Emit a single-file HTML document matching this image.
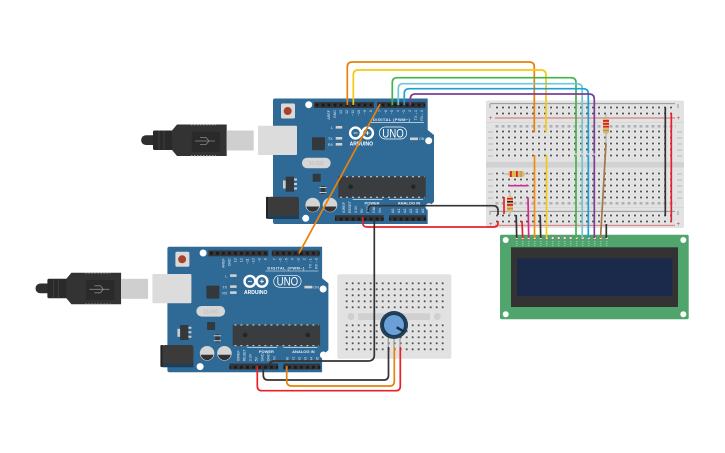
<!DOCTYPE html>
<html><head><meta charset="utf-8"><style>
html,body{margin:0;padding:0;background:#fff;width:725px;height:453px;overflow:hidden}
svg{display:block}
text{font-family:"Liberation Sans",sans-serif}
.w{fill:none;stroke-width:1.7;stroke-linejoin:round}
.l{font-size:3.6px;fill:#dfe8f0}
</style></head><body>
<svg width="725" height="453" viewBox="0 0 725 453" xmlns="http://www.w3.org/2000/svg">
<defs>
<pattern id="h" x="2" y="-3.500" width="6" height="6" patternUnits="userSpaceOnUse"><rect width="6" height="6" fill="#e2e2e2"/><rect x="1.300" y="1.300" width="3.400" height="3.400" rx="1" fill="#ebebeb"/><rect x="2.100" y="2.100" width="1.800" height="1.800" fill="#444"/></pattern>
<pattern id="s" x="1.700" y="4.300" width="6" height="6" patternUnits="userSpaceOnUse"><rect width="6" height="6" fill="#e2e2e2"/><rect x="1.300" y="1.300" width="3.400" height="3.400" rx="1" fill="#ebebeb"/><rect x="2.100" y="2.100" width="1.800" height="1.800" fill="#444"/></pattern>
<pattern id="m" x="2" y="125" width="6" height="100" patternUnits="userSpaceOnUse"><rect x="1.500" y="0" width="3" height="2.600" fill="#b0b0b0"/><rect x="1.500" y="77" width="3" height="2.600" fill="#b0b0b0"/></pattern>
<pattern id="p" x="314" y="0" width="6" height="6" patternUnits="userSpaceOnUse"><rect width="6" height="6" fill="#33363a"/><rect x="1.600" y="1.600" width="2.800" height="2.800" fill="#17191b"/></pattern>
</defs>

<!-- Main breadboard -->
<rect x="486" y="100.500" width="198" height="127.500" rx="2" fill="#e2e2e2"/>
<rect x="486" y="122" width="198" height="1" fill="#d8d8d8"/>
<rect x="486" y="162" width="198" height="5.500" fill="#d2d2d2"/>
<rect x="486" y="207" width="198" height="1" fill="#d8d8d8"/>
<rect x="494" y="104.500" width="182" height="12" fill="url(#h)"/>
<rect x="494" y="212.500" width="182" height="12" fill="url(#h)"/>
<rect x="494" y="128.500" width="182" height="30" fill="url(#h)"/>
<rect x="494" y="170.500" width="182" height="30" fill="url(#h)"/>
<rect x="494" y="125" width="182" height="80" fill="url(#m)"/>
<line x1="490" y1="103.700" x2="675" y2="103.700" stroke="#8a8a8a" stroke-width=".9"/>
<line x1="495" y1="118" x2="675" y2="118" stroke="#d46a6a" stroke-width=".9"/>
<line x1="490" y1="211.300" x2="675" y2="211.300" stroke="#8a8a8a" stroke-width=".9"/>
<line x1="495" y1="225.300" x2="675" y2="225.300" stroke="#d46a6a" stroke-width=".9"/>
<path d="M677,132h5M677,138h5M677,144h5M677,150h5M677,156h5M677,174h5M677,180h5M677,186h5M677,192h5M677,198h5M488,132h5M488,138h5M488,144h5M488,150h5M488,156h5M488,174h5M488,180h5M488,186h5M488,192h5M488,198h5" stroke="#bbb" stroke-width="1"/>
<path d="M678,104v4M490,104v4M678,211v4M490,211v4" stroke="#999" stroke-width="1"/>
<text x="489" y="120" font-size="6" fill="#c33">+</text><text x="676.500" y="120" font-size="6" fill="#c33">+</text>
<text x="489" y="226" font-size="6" fill="#c33">+</text><text x="676.500" y="226" font-size="6" fill="#c33">+</text>

<!-- Small breadboard -->
<rect x="337.300" y="274.300" width="114" height="84.400" rx="2" fill="#e2e2e2"/>
<rect x="343.700" y="280.300" width="102" height="30" fill="url(#s)"/>
<rect x="343.700" y="322.700" width="102" height="30" fill="url(#s)"/>
<rect x="358" y="313.300" width="72" height="6.700" rx="1" fill="#d0d0d0"/>
<circle cx="351" cy="316.500" r="3.500" fill="#cfcfcf"/><circle cx="437.300" cy="316.500" r="3.500" fill="#cfcfcf"/>

<!-- LCD -->
<rect x="500" y="234.700" width="188.700" height="84.600" rx="1.500" fill="#4fa56b"/>
<circle cx="505.700" cy="240" r="3" fill="#fff"/><circle cx="683.300" cy="240" r="3" fill="#fff"/>
<circle cx="505.700" cy="314.300" r="3" fill="#fff"/><circle cx="683.300" cy="314.300" r="3" fill="#fff"/>
<rect x="511" y="247.300" width="167" height="59.700" fill="#333"/>
<rect x="517" y="258.300" width="155.300" height="37.700" fill="#1b2a4a"/>
<g fill="#f0e9c8" stroke="#666" stroke-width=".5">
<circle cx="516.700" cy="238" r="1.500"/><circle cx="522.700" cy="238" r="1.500"/><circle cx="528.700" cy="238" r="1.500"/><circle cx="534.700" cy="238" r="1.500"/><circle cx="540.700" cy="238" r="1.500"/><circle cx="546.700" cy="238" r="1.500"/><circle cx="552.700" cy="238" r="1.500"/><circle cx="558.700" cy="238" r="1.500"/><circle cx="564.700" cy="238" r="1.500"/><circle cx="570.700" cy="238" r="1.500"/><circle cx="576.700" cy="238" r="1.500"/><circle cx="582.700" cy="238" r="1.500"/><circle cx="588.700" cy="238" r="1.500"/><circle cx="594.700" cy="238" r="1.500"/><circle cx="600.700" cy="238" r="1.500"/><circle cx="606.700" cy="238" r="1.500"/>
</g>
<path d="M516.700,241v5M522.700,241v5M528.700,241v5M534.700,241v5M540.700,241v5M546.700,241v5M552.700,241v5M558.700,241v5M564.700,241v5M570.700,241v5M576.700,241v5M582.700,241v5M588.700,241v5M594.700,241v5M600.700,241v5M606.700,241v5" stroke="#8cc5a0" stroke-width="1.600" stroke-dasharray="1 1"/>

<!-- USB top -->
<g>
<path d="M146,135.200H156V145H146a4.900,4.900 0 0 1 0,-9.800Z" fill="#2f2f2f"/>
<rect x="153" y="130.500" width="20" height="19.500" rx="1.500" fill="#2a2a2a"/>
<path d="M159,130.500v19.500M164,130.500v19.500" stroke="#444" stroke-width=".8"/>
<path d="M172,130.500L177,124.500H226.700V156H177L172,150Z" fill="#333"/>
<path d="M191,124.700H216M191,155.800H216" stroke="#aaa" stroke-width="1" stroke-dasharray="1.500 1.500"/>
<rect x="191.700" y="131.700" width="28.300" height="20" fill="#2a2a2a"/>
<path d="M195,141H215M200,137.500H206L209,141M200,144.500H206L209,141" stroke="#888" stroke-width=".8" fill="none"/>
<rect x="226.700" y="130.500" width="27" height="20" fill="#cfcfcf"/>
</g>
<!-- USB bottom -->
<g transform="translate(-105.600,148.300)">
<path d="M146,135.200H156V145H146a4.900,4.900 0 0 1 0,-9.800Z" fill="#2f2f2f"/>
<rect x="153" y="130.500" width="20" height="19.500" rx="1.500" fill="#2a2a2a"/>
<path d="M159,130.500v19.500M164,130.500v19.500" stroke="#444" stroke-width=".8"/>
<path d="M172,130.500L177,124.500H226.700V156H177L172,150Z" fill="#333"/>
<path d="M191,124.700H216M191,155.800H216" stroke="#aaa" stroke-width="1" stroke-dasharray="1.500 1.500"/>
<rect x="191.700" y="131.700" width="28.300" height="20" fill="#2a2a2a"/>
<path d="M195,141H215M200,137.500H206L209,141M200,144.500H206L209,141" stroke="#888" stroke-width=".8" fill="none"/>
<rect x="226.700" y="130.500" width="27" height="20" fill="#cfcfcf"/>
</g>

<!-- Arduino top -->
<g>
<path d="M275,98.500H427.700V130L434,135V201.700L427.700,208V224H275a2,2 0 0 1 -2,-2V100.500a2,2 0 0 1 2,-2Z" fill="#2f6a97"/>
<rect x="258" y="125.700" width="39" height="29.300" rx="1" fill="#dcdcdc"/>
<rect x="281" y="103.500" width="14" height="15" rx="1.500" fill="#d9d9d9"/><circle cx="287.700" cy="111" r="4" fill="#a8432b"/>
<circle cx="308.700" cy="104.700" r="3.500" fill="#fff"/><circle cx="428.700" cy="140.700" r="3.500" fill="#fff"/><circle cx="429" cy="206.700" r="3.500" fill="#fff"/><circle cx="305.700" cy="218.300" r="3.500" fill="#fff"/>
<rect x="314" y="102" width="60" height="6" fill="url(#p)"/>
<rect x="377.300" y="102" width="48" height="6" fill="url(#p)"/>
<rect x="335" y="215.200" width="48.700" height="6" fill="url(#p)"/><rect x="389" y="215.200" width="37" height="6" fill="url(#p)"/>
<rect x="312" y="137.300" width="13" height="13" rx="1" fill="#33383c"/>
<rect x="302" y="157.700" width="28.700" height="10.600" rx="5.300" fill="#d6d6d6"/><text x="316.300" y="165" font-size="5" fill="#bcbcbc" text-anchor="middle">16.000</text>
<rect x="312.700" y="173.700" width="8" height="8" rx=".5" fill="#33383c"/>
<rect x="283" y="180.500" width="4" height="8" fill="#ccc"/><rect x="285.700" y="176.700" width="8.300" height="15" fill="#33383c"/><path d="M294,179.500h3M294,184h3M294,188.500h3" stroke="#ccc" stroke-width="2"/>
<rect x="320.800" y="186" width="4.500" height="8" fill="#33383c"/><path d="M319.500,187.500h7M319.500,192.500h7" stroke="#ccc" stroke-width="1"/>
<rect x="338.300" y="176.300" width="87.400" height="21.400" fill="#3a3d3f"/>
<path d="M340,176.700H424.500M340,197.300H424.500" stroke="#d8d8d8" stroke-width="1" stroke-dasharray="2 4"/>
<circle cx="350.700" cy="186.700" r="2.300" fill="#232527"/><circle cx="413.300" cy="186.700" r="2.300" fill="#232527"/>
<rect x="266" y="196.700" width="3" height="22" rx="1" fill="#232323"/><rect x="268" y="196.700" width="31" height="21.500" rx="2.500" fill="#3b3b3b"/><rect x="268" y="215.500" width="31" height="3.500" fill="#1f3f58"/>
<circle cx="312.700" cy="205" r="7.300" fill="#d4d4d4"/><path d="M306.300,206.500a6.500,6.500 0 0 0 12.800,0Z" fill="#333"/>
<circle cx="330" cy="205" r="7.300" fill="#d4d4d4"/><path d="M323.600,206.500a6.500,6.500 0 0 0 12.800,0Z" fill="#333"/>
<circle cx="355.500" cy="133" r="5.400" fill="none" stroke="#fff" stroke-width="2.400"/><circle cx="367.500" cy="133" r="5.400" fill="none" stroke="#fff" stroke-width="2.400"/>
<path d="M353.500,133h4M365.400,133h4.200M367.500,131v4" stroke="#fff" stroke-width=".8"/>
<text x="361.300" y="145.500" font-size="5" font-weight="bold" fill="#fff" text-anchor="middle">ARDUINO</text>
<rect x="379.300" y="127" width="27.400" height="12" rx="6" fill="none" stroke="#fff" stroke-width=".7"/>
<text x="393" y="137.400" font-size="12" fill="#fff" text-anchor="middle" textLength="21.500" lengthAdjust="spacingAndGlyphs">UNO</text>
<text x="391.500" y="121" font-size="4" font-weight="bold" fill="#e8eef3" text-anchor="middle" textLength="37">DIGITAL (PWM~)</text>
<line x1="371" y1="122.700" x2="424" y2="122.700" stroke="#fff" stroke-width=".6"/>
<rect x="335.700" y="126" width="6.500" height="2.600" fill="#d0d0d0"/><rect x="335.700" y="137" width="6.500" height="2.600" fill="#d0d0d0"/><rect x="335.700" y="143" width="6.500" height="2.600" fill="#d0d0d0"/><rect x="410" y="137.500" width="8" height="2.600" fill="#d0d0d0"/>
<text class="l" x="331" y="129">L</text><text class="l" x="328" y="140">TX</text><text class="l" x="328" y="146">RX</text><text class="l" x="419" y="140">ON</text>
<text transform="translate(330,110) rotate(-90)" class="l" text-anchor="end">AREF</text><text transform="translate(336,110) rotate(-90)" class="l" text-anchor="end">GND</text><text transform="translate(342,110) rotate(-90)" class="l" text-anchor="end">13</text><text transform="translate(348,110) rotate(-90)" class="l" text-anchor="end">12</text><text transform="translate(354,110) rotate(-90)" class="l" text-anchor="end">~11</text><text transform="translate(360,110) rotate(-90)" class="l" text-anchor="end">~10</text><text transform="translate(366,110) rotate(-90)" class="l" text-anchor="end">~9</text><text transform="translate(372,110) rotate(-90)" class="l" text-anchor="end">8</text>
<text transform="translate(381,110) rotate(-90)" class="l" text-anchor="end">7</text><text transform="translate(387,110) rotate(-90)" class="l" text-anchor="end">~6</text><text transform="translate(393,110) rotate(-90)" class="l" text-anchor="end">~5</text><text transform="translate(399,110) rotate(-90)" class="l" text-anchor="end">4</text><text transform="translate(405,110) rotate(-90)" class="l" text-anchor="end">~3</text><text transform="translate(411,110) rotate(-90)" class="l" text-anchor="end">2</text><text transform="translate(417,110) rotate(-90)" class="l" text-anchor="end">TX→1</text><text transform="translate(423,110) rotate(-90)" class="l" text-anchor="end">RX←0</text>
<text x="372" y="204.500" font-size="4" font-weight="bold" fill="#e8eef3" text-anchor="middle">POWER</text>
<text x="409" y="204.500" font-size="4" font-weight="bold" fill="#e8eef3" text-anchor="middle">ANALOG IN</text>
<path d="M352.700,199.300H382.700M389,199.300H423" stroke="#fff" stroke-width=".6"/>
<text transform="translate(345,213) rotate(-90)" class="l">IOREF</text><text transform="translate(351,213) rotate(-90)" class="l">RESET</text><text transform="translate(357,213) rotate(-90)" class="l">3.3V</text><text transform="translate(363,213) rotate(-90)" class="l">5V</text><text transform="translate(369,213) rotate(-90)" class="l">GND</text><text transform="translate(375,213) rotate(-90)" class="l">GND</text><text transform="translate(381,213) rotate(-90)" class="l">Vin</text>
<text transform="translate(394,213) rotate(-90)" class="l">A0</text><text transform="translate(400,213) rotate(-90)" class="l">A1</text><text transform="translate(406,213) rotate(-90)" class="l">A2</text><text transform="translate(412,213) rotate(-90)" class="l">A3</text><text transform="translate(418,213) rotate(-90)" class="l">A4</text><text transform="translate(424,213) rotate(-90)" class="l">A5</text>
</g>

<!-- Arduino bottom -->
<g transform="translate(-105.600,148.300)">
<path d="M275,98.500H427.700V130L434,135V201.700L427.700,208V224H275a2,2 0 0 1 -2,-2V100.500a2,2 0 0 1 2,-2Z" fill="#2f6a97"/>
<rect x="258" y="125.700" width="39" height="29.300" rx="1" fill="#dcdcdc"/>
<rect x="281" y="103.500" width="14" height="15" rx="1.500" fill="#d9d9d9"/><circle cx="287.700" cy="111" r="4" fill="#a8432b"/>
<circle cx="308.700" cy="104.700" r="3.500" fill="#fff"/><circle cx="428.700" cy="140.700" r="3.500" fill="#fff"/><circle cx="429" cy="206.700" r="3.500" fill="#fff"/><circle cx="305.700" cy="218.300" r="3.500" fill="#fff"/>
<rect x="314" y="102" width="60" height="6" fill="url(#p)"/>
<rect x="377.300" y="102" width="48" height="6" fill="url(#p)"/>
<rect x="335" y="215.200" width="48.700" height="6" fill="url(#p)"/><rect x="389" y="215.200" width="37" height="6" fill="url(#p)"/>
<rect x="312" y="137.300" width="13" height="13" rx="1" fill="#33383c"/>
<rect x="302" y="157.700" width="28.700" height="10.600" rx="5.300" fill="#d6d6d6"/><text x="316.300" y="165" font-size="5" fill="#bcbcbc" text-anchor="middle">16.000</text>
<rect x="312.700" y="173.700" width="8" height="8" rx=".5" fill="#33383c"/>
<rect x="283" y="180.500" width="4" height="8" fill="#ccc"/><rect x="285.700" y="176.700" width="8.300" height="15" fill="#33383c"/><path d="M294,179.500h3M294,184h3M294,188.500h3" stroke="#ccc" stroke-width="2"/>
<rect x="320.800" y="186" width="4.500" height="8" fill="#33383c"/><path d="M319.500,187.500h7M319.500,192.500h7" stroke="#ccc" stroke-width="1"/>
<rect x="338.300" y="176.300" width="87.400" height="21.400" fill="#3a3d3f"/>
<path d="M340,176.700H424.500M340,197.300H424.500" stroke="#d8d8d8" stroke-width="1" stroke-dasharray="2 4"/>
<circle cx="350.700" cy="186.700" r="2.300" fill="#232527"/><circle cx="413.300" cy="186.700" r="2.300" fill="#232527"/>
<rect x="266" y="196.700" width="3" height="22" rx="1" fill="#232323"/><rect x="268" y="196.700" width="31" height="21.500" rx="2.500" fill="#3b3b3b"/><rect x="268" y="215.500" width="31" height="3.500" fill="#1f3f58"/>
<circle cx="312.700" cy="205" r="7.300" fill="#d4d4d4"/><path d="M306.300,206.500a6.500,6.500 0 0 0 12.800,0Z" fill="#333"/>
<circle cx="330" cy="205" r="7.300" fill="#d4d4d4"/><path d="M323.600,206.500a6.500,6.500 0 0 0 12.800,0Z" fill="#333"/>
<circle cx="355.500" cy="133" r="5.400" fill="none" stroke="#fff" stroke-width="2.400"/><circle cx="367.500" cy="133" r="5.400" fill="none" stroke="#fff" stroke-width="2.400"/>
<path d="M353.500,133h4M365.400,133h4.200M367.500,131v4" stroke="#fff" stroke-width=".8"/>
<text x="361.300" y="145.500" font-size="5" font-weight="bold" fill="#fff" text-anchor="middle">ARDUINO</text>
<rect x="379.300" y="127" width="27.400" height="12" rx="6" fill="none" stroke="#fff" stroke-width=".7"/>
<text x="393" y="137.400" font-size="12" fill="#fff" text-anchor="middle" textLength="21.500" lengthAdjust="spacingAndGlyphs">UNO</text>
<text x="391.500" y="121" font-size="4" font-weight="bold" fill="#e8eef3" text-anchor="middle" textLength="37">DIGITAL (PWM~)</text>
<line x1="371" y1="122.700" x2="424" y2="122.700" stroke="#fff" stroke-width=".6"/>
<rect x="335.700" y="126" width="6.500" height="2.600" fill="#d0d0d0"/><rect x="335.700" y="137" width="6.500" height="2.600" fill="#d0d0d0"/><rect x="335.700" y="143" width="6.500" height="2.600" fill="#d0d0d0"/><rect x="410" y="137.500" width="8" height="2.600" fill="#d0d0d0"/>
<text class="l" x="331" y="129">L</text><text class="l" x="328" y="140">TX</text><text class="l" x="328" y="146">RX</text><text class="l" x="419" y="140">ON</text>
<text transform="translate(330,110) rotate(-90)" class="l" text-anchor="end">AREF</text><text transform="translate(336,110) rotate(-90)" class="l" text-anchor="end">GND</text><text transform="translate(342,110) rotate(-90)" class="l" text-anchor="end">13</text><text transform="translate(348,110) rotate(-90)" class="l" text-anchor="end">12</text><text transform="translate(354,110) rotate(-90)" class="l" text-anchor="end">~11</text><text transform="translate(360,110) rotate(-90)" class="l" text-anchor="end">~10</text><text transform="translate(366,110) rotate(-90)" class="l" text-anchor="end">~9</text><text transform="translate(372,110) rotate(-90)" class="l" text-anchor="end">8</text>
<text transform="translate(381,110) rotate(-90)" class="l" text-anchor="end">7</text><text transform="translate(387,110) rotate(-90)" class="l" text-anchor="end">~6</text><text transform="translate(393,110) rotate(-90)" class="l" text-anchor="end">~5</text><text transform="translate(399,110) rotate(-90)" class="l" text-anchor="end">4</text><text transform="translate(405,110) rotate(-90)" class="l" text-anchor="end">~3</text><text transform="translate(411,110) rotate(-90)" class="l" text-anchor="end">2</text><text transform="translate(417,110) rotate(-90)" class="l" text-anchor="end">TX→1</text><text transform="translate(423,110) rotate(-90)" class="l" text-anchor="end">RX←0</text>
<text x="372" y="204.500" font-size="4" font-weight="bold" fill="#e8eef3" text-anchor="middle">POWER</text>
<text x="409" y="204.500" font-size="4" font-weight="bold" fill="#e8eef3" text-anchor="middle">ANALOG IN</text>
<path d="M352.700,199.300H382.700M389,199.300H423" stroke="#fff" stroke-width=".6"/>
<text transform="translate(345,213) rotate(-90)" class="l">IOREF</text><text transform="translate(351,213) rotate(-90)" class="l">RESET</text><text transform="translate(357,213) rotate(-90)" class="l">3.3V</text><text transform="translate(363,213) rotate(-90)" class="l">5V</text><text transform="translate(369,213) rotate(-90)" class="l">GND</text><text transform="translate(375,213) rotate(-90)" class="l">GND</text><text transform="translate(381,213) rotate(-90)" class="l">Vin</text>
<text transform="translate(394,213) rotate(-90)" class="l">A0</text><text transform="translate(400,213) rotate(-90)" class="l">A1</text><text transform="translate(406,213) rotate(-90)" class="l">A2</text><text transform="translate(412,213) rotate(-90)" class="l">A3</text><text transform="translate(418,213) rotate(-90)" class="l">A4</text><text transform="translate(424,213) rotate(-90)" class="l">A5</text>
</g>

<!-- Potentiometer -->
<path d="M388.300,338V347M394,338V347M400,338V347" stroke="#999" stroke-width="1.200"/>
<circle cx="394" cy="325" r="14" fill="#1d3b53"/>
<circle cx="394" cy="325" r="12.700" fill="none" stroke="#4a6478" stroke-width=".6" stroke-dasharray="1 2"/>
<circle cx="394" cy="325" r="10" fill="#6a9fd8"/>
<line x1="396.700" y1="327.300" x2="404" y2="331.700" stroke="#1d2f3f" stroke-width="2.400"/>

<!-- Resistors -->
<g>
<path d="M502,174H530" stroke="#aaa" stroke-width="1"/>
<rect x="508" y="171" width="16.500" height="6" rx="2.500" fill="#d8b878"/>
<rect x="510" y="171" width="1.800" height="6" fill="#e02020"/><rect x="513" y="171" width="1.800" height="6" fill="#e8c010"/><rect x="516" y="171" width="1.800" height="6" fill="#e02020"/><rect x="520.500" y="171" width="1.200" height="6" fill="#b89040"/>
<path d="M510,192V216" stroke="#aaa" stroke-width="1"/>
<rect x="507" y="196" width="6" height="16.500" rx="2.500" fill="#d8b878"/>
<rect x="507" y="198" width="6" height="1.500" fill="#e02020"/><rect x="507" y="201" width="6" height="1.500" fill="#222"/><rect x="507" y="204" width="6" height="1.800" fill="#e02020"/><rect x="507" y="208" width="6" height="1.200" fill="#b89040"/>
<path d="M606,114V144" stroke="#aaa" stroke-width="1"/>
<rect x="603" y="118" width="6" height="16" rx="2.500" fill="#d8b878"/>
<rect x="603" y="120" width="6" height="1.800" fill="#e02020"/><rect x="603" y="123" width="6" height="1.800" fill="#e02020"/><rect x="603" y="126" width="6" height="1.500" fill="#e02020"/><rect x="603" y="130" width="6" height="1.200" fill="#b89040"/>
</g>

<!-- Wires -->
<path class="w" stroke="#e8820c" d="M347.300,105V67Q347.300,62 352.300,62H529.300Q534.300,62 534.300,67V132.500"/>
<path class="w" stroke="#f5c913" d="M353.300,105V75Q353.300,70 358.300,70H541Q546,70 546,75V132.500"/>
<path class="w" stroke="#f28c0f" d="M534.500,155V238"/>
<path class="w" stroke="#f5c913" d="M546.500,155V238"/>
<path class="w" stroke="#3fb54a" d="M392.300,105V82.700Q392.300,77.700 397.300,77.700H571Q576,77.700 576,82.700V238"/>
<path class="w" stroke="#6dc8d4" d="M398.300,105V88.700Q398.300,83.700 403.300,83.700H577Q582.200,83.700 582.200,88.700V238"/>
<path class="w" stroke="#18a0d8" d="M404.300,105V93.700Q404.300,88.700 409.300,88.700H583Q588.300,88.700 588.300,93.700V238"/>
<path class="w" stroke="#7c3f98" d="M410.300,105V99Q410.300,94 415.300,94H589Q594.300,94 594.300,99V238"/>
<rect x="574" y="153" width="22" height="2.500" fill="#e0e0e0" opacity=".6"/>
<path class="w" stroke="#e8820c" d="M380,104.300L299,253.300"/>
<path class="w" stroke="#e8202a" d="M362.800,217V223Q362.800,227 367,227H494Q498,227 498,223V221"/>
<path class="w" stroke="#333" d="M368.300,212V209Q368.300,205.700 372,205.700H493Q498,205.700 498,210.500V215"/>
<path class="w" stroke="#333" d="M374.300,217V355Q374.300,361 368,361H275Q269,361 269,367"/>
<path class="w" stroke="#333" d="M263.300,367V375Q263.300,380 268,380H384Q388.500,380 388.500,375V347"/>
<path class="w" stroke="#e8820c" d="M286.700,366V381Q286.700,386 291.700,386H390Q394.300,386 394.300,381V347"/>
<path class="w" stroke="#e8202a" d="M257.300,366V386Q257.300,390.700 262,390.700H396Q400.300,390.700 400.300,386V347"/>
<path class="w" stroke="#333" d="M516.200,215L516.700,238M540.200,215L540.700,238M606.300,224V238M665.300,107.300V216"/>
<path class="w" stroke="#e8202a" d="M522,221L522.700,238M671.300,113V222M504,197V214"/>
<path class="w" stroke="#d02a94" d="M528,197.300L528.700,238M509,185.700H528.700"/>
<path class="w" stroke="#a5764a" d="M606,143.300L600.500,238"/>
</svg>
</body></html>
